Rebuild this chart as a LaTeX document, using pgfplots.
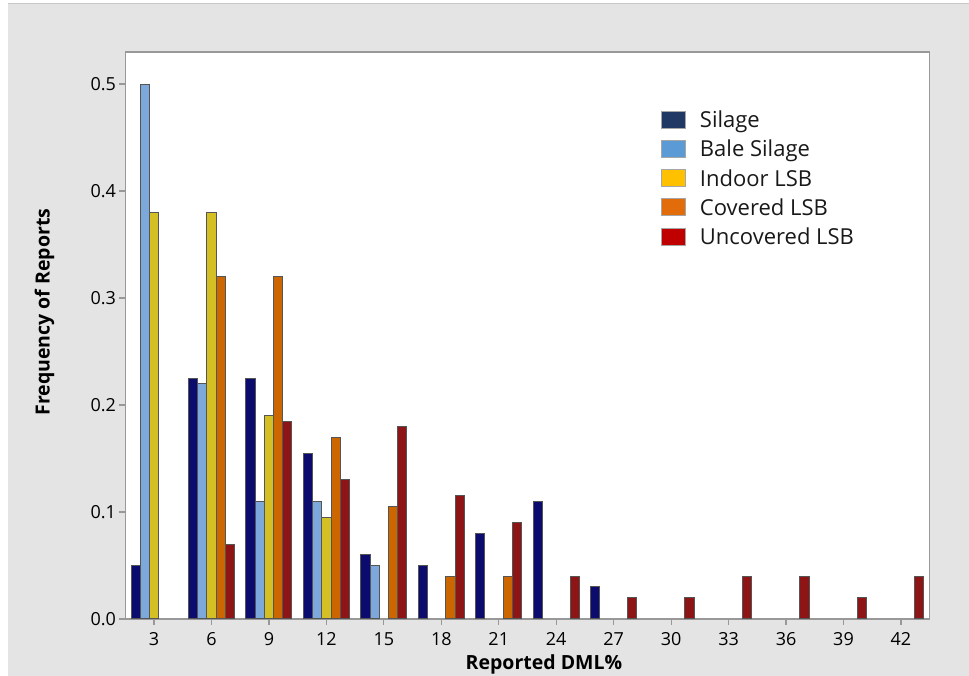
\documentclass[border=0pt]{standalone}
\usepackage{pgfplots}
\pgfplotsset{compat=1.18}
\usepackage{fontspec}
\setmainfont{Open Sans}

\definecolor{bggray}{RGB}{228,228,228}
\definecolor{bgline}{RGB}{200,200,200}
\definecolor{frame}{RGB}{152,152,152}
\definecolor{edge}{RGB}{85,85,85}
% bar fills
\definecolor{silbar}{RGB}{12,12,110}
\definecolor{balebar}{RGB}{125,168,220}
\definecolor{indbar}{RGB}{212,192,36}
\definecolor{covbar}{RGB}{204,102,0}
\definecolor{uncbar}{RGB}{142,21,21}
% legend swatches
\definecolor{silleg}{RGB}{32,56,100}
\definecolor{baleleg}{RGB}{91,155,213}
\definecolor{indleg}{RGB}{255,192,0}
\definecolor{covleg}{RGB}{226,107,10}
\definecolor{uncleg}{RGB}{192,0,0}

\pgfplotsset{
  swatch/.style={legend image code/.code={%
    \draw[fill=#1, draw=gray!70, line width=0.8pt] (0pt,-8pt) rectangle (24pt,9pt);}},
  dmlbar/.style 2 args={ybar, bar width=0.48, bar shift=#2, fill=#1, draw=edge, line width=1pt},
}

\begin{document}
\begin{tikzpicture}[x=1pt,y=1pt]
\useasboundingbox (0,0) rectangle (969,676);
\fill[white] (0,0) rectangle (969,676);
\fill[bggray] (8,0) rectangle (969,672);
\draw[bgline, line width=1pt] (8,672) -- (969,672);

\begin{axis}[
  at={(125.5pt,57pt)}, anchor=south west,
  scale only axis, width=804pt, height=567pt,
  xmin=1.51, xmax=43.49, ymin=0, ymax=0.53,
  axis background/.style={fill=white},
  axis line style={frame, line width=1.6pt},
  tick align=outside, tick pos=left,
  major tick length=6pt,
  tick style={frame, line width=1.2pt},
  xtick={3,6,...,42},
  ytick={0,0.1,...,0.5},
  /pgf/number format/assume math mode=true,
  yticklabel style={/pgf/number format/.cd, fixed, fixed zerofill, precision=1},
  ticklabel style={font=\fontsize{18}{20}\selectfont, text=black},
  xticklabel style={yshift=-4pt},
  xlabel={Reported DML\%},
  ylabel={Frequency of Reports},
  label style={font=\fontsize{19.5}{22}\selectfont\bfseries, text=black},
  xlabel style={at={(axis description cs:0.5205,-0.0882)}, anchor=base},
  ylabel style={at={(axis description cs:-0.1007,0.541)}, anchor=center},
  legend style={at={(axis description cs:0.666,0.898)}, anchor=north west,
    draw=none, fill=none, inner sep=0pt,
    font=\fontsize{22}{26}\selectfont, text=black!90,
    row sep=9pt,
    nodes={inner sep=1pt},
    /tikz/every odd column/.append style={column sep=13pt}},
  legend cell align=left,
]
\addplot[dmlbar={silbar}{-0.96}, swatch=silleg] coordinates
  {(3,0.05) (6,0.225) (9,0.225) (12,0.155) (15,0.06) (18,0.05) (21,0.08) (24,0.11) (27,0.03)};
\addlegendentry{Silage}
\addplot[dmlbar={balebar}{-0.48}, swatch=baleleg] coordinates
  {(3,0.5) (6,0.22) (9,0.11) (12,0.11) (15,0.05)};
\addlegendentry{Bale Silage}
\addplot[dmlbar={indbar}{0}, swatch=indleg] coordinates
  {(3,0.38) (6,0.38) (9,0.19) (12,0.095)};
\addlegendentry{Indoor LSB}
\addplot[dmlbar={covbar}{0.48}, swatch=covleg] coordinates
  {(6,0.32) (9,0.32) (12,0.17) (15,0.105) (18,0.04) (21,0.04)};
\addlegendentry{Covered LSB}
\addplot[dmlbar={uncbar}{0.96}, swatch=uncleg] coordinates
  {(6,0.07) (9,0.185) (12,0.13) (15,0.18) (18,0.115) (21,0.09) (24,0.04)
   (27,0.02) (30,0.02) (33,0.04) (36,0.04) (39,0.02) (42,0.04)};
\addlegendentry{Uncovered LSB}
\end{axis}
\end{tikzpicture}
\end{document}
